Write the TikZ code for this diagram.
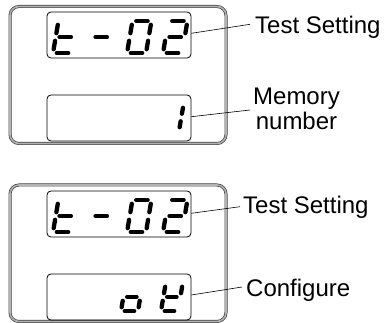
\documentclass[tikz,border=0pt]{standalone}
\usepackage{fontspec}
\setmainfont{Liberation Sans}
\tikzset{
 panel/.style={draw=black!75, double=black!30, double distance=1.6pt, line width=0.7pt, rounded corners=9pt, minimum width=216pt, inner sep=0pt},
 disp/.style={draw=black, line width=0.8pt, rounded corners=4pt, minimum width=144pt, minimum height=46pt, inner sep=0pt},
 segline/.style={line width=4.3pt, line cap=round, black},
 leader/.style={draw=black, line width=0.6pt},
 lbl/.style={font=\fontsize{24}{25}\selectfont, inner sep=0pt},
}
\def\sgap{3.8}
\newcommand\segA{\draw[segline] (\sgap,\dH) -- ({\dW-\sgap},\dH);}
\newcommand\segB{\draw[segline] (\dW,{\dH-\sgap}) -- (\dW,{\dH/2+\sgap});}
\newcommand\segC{\draw[segline] (\dW,{\dH/2-\sgap}) -- (\dW,\sgap);}
\newcommand\segD{\draw[segline] (\sgap,0) -- ({\dW-\sgap},0);}
\newcommand\segE{\draw[segline] (0,\sgap) -- (0,{\dH/2-\sgap});}
\newcommand\segF{\draw[segline] (0,{\dH/2+\sgap}) -- (0,{\dH-\sgap});}
\newcommand\segG{\draw[segline] (\sgap,{\dH/2}) -- ({\dW-\sgap},{\dH/2});}
\newcommand\sevdig[5]{\begin{scope}[shift={(#1,#2)},x={(1pt,0pt)},y={(0.17pt,1pt)}]\def\dW{#3}\def\dH{#4}\foreach \s in {#5}{\csname seg\s\endcsname}\end{scope}}
\begin{document}
\begin{tikzpicture}[x=1pt,y=-1pt]
\useasboundingbox (0,0) rectangle (386,323);
% panels
\node[panel, minimum height=137pt] (p1) at (118,75) {};
\node[panel, minimum height=136.5pt] (p2) at (118,253.25) {};
% displays
\node[disp] (d1) at (119,35) {};
\node[disp] (d2) at (119,118) {};
\node[disp] (d3) at (119,214) {};
\node[disp] (d4) at (119,297) {};
% digits panel 1
\sevdig{53}{53}{19}{32}{F,E,G,D}
\sevdig{89}{53}{19}{32}{G}
\sevdig{127}{53}{19}{32}{A,B,C,D,E,F}
\sevdig{163}{53}{19}{32}{A,B,G,E,D}
\sevdig{162}{131}{17}{27}{B,C}
% digits panel 2
\sevdig{53}{232}{19}{32}{F,E,G,D}
\sevdig{89}{232}{19}{32}{G}
\sevdig{127}{232}{19}{32}{A,B,C,D,E,F}
\sevdig{163}{232}{19}{32}{A,B,G,E,D}
\sevdig{121}{311}{17}{28}{G,C,D,E}
\sevdig{161}{311}{17}{28}{F,E,G,B,D}
% labels
\node[lbl, anchor=base west] (t1) at (255,34) {Test Setting};
\node[lbl, anchor=north, align=center] (t2) at (296.5,87.8) {Memory\\number};
\node[lbl, anchor=base west] (t3) at (243,213.3) {Test Setting};
\node[lbl, anchor=base west] (t4) at (246,296.7) {Configure};
\coordinate (e1) at (250,24.3);
\coordinate (e2) at (250,110);
\coordinate (e3) at (240,206.7);
\coordinate (e4) at (242,287);
\draw[leader] ([yshift=1.7pt]d1.east) -- (e1);
\draw[leader] ([yshift=1.3pt]d2.east) -- (e2);
\draw[leader] ([yshift=0.7pt]d3.east) -- (e3);
\draw[leader] ([yshift=2pt]d4.east) -- (e4);
\end{tikzpicture}
\end{document}
